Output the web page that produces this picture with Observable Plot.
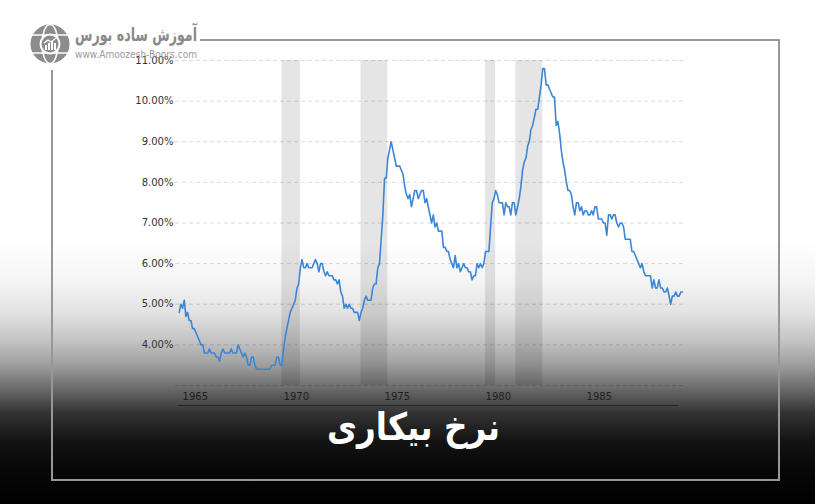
<!DOCTYPE html>
<html>
<head>
<meta charset="utf-8">
<script src="https://cdn.jsdelivr.net/npm/d3@7"></script>
<script src="https://cdn.jsdelivr.net/npm/@observablehq/plot@0.6"></script>
<style>
  html, body { margin: 0; padding: 0; background: #000; }
  #wrap {
    position: relative; width: 815px; height: 504px; overflow: hidden;
    background: linear-gradient(to bottom,
      #ffffff 0px, #ffffff 240px, #f5f5f5 280px, #e2e2e2 313px, #c4c4c4 340px,
      #a2a2a2 363px, #6e6e6e 387px, #333333 413px, #141414 440px, #070707 470px, #000000 504px);
  }
  #chart { position: absolute; left: 0; top: 0; }
  #deco { position: absolute; left: 0; top: 0; }
</style>
</head>
<body>
<div id="wrap">
  <div id="chart"></div>
  <svg id="deco" width="815" height="504">
    <!-- frame -->
    <g stroke="#979797" stroke-width="2" fill="none">
      <line x1="200" y1="40" x2="780" y2="40"></line>
      <line x1="779" y1="40" x2="779" y2="481"></line>
      <line x1="52" y1="480" x2="780" y2="480"></line>
      <line x1="52" y1="70" x2="52" y2="481"></line>
    </g>
    <!-- navigator baseline -->
    <line x1="178" y1="405.5" x2="678" y2="405.5" stroke="#000" stroke-opacity="0.45" stroke-width="1"></line>
    <!-- logo -->
    <g transform="translate(50,44)">
      <circle r="19.5" fill="#8c8c8c"></circle>
      <ellipse rx="8" ry="19.5" fill="none" stroke="#fff" stroke-width="1.6"></ellipse>
      <line x1="-19.5" y1="-9" x2="19.5" y2="-9" stroke="#fff" stroke-width="1.6"></line>
      <line x1="-19.5" y1="9" x2="19.5" y2="9" stroke="#fff" stroke-width="1.6"></line>
      <circle r="10.5" fill="#fff"></circle>
      <circle r="8.5" fill="#8c8c8c"></circle>
      <g fill="#fff">
        <rect x="-5" y="1" width="2" height="5"></rect>
        <rect x="-2" y="-1" width="2" height="7"></rect>
        <rect x="1" y="-3" width="2" height="9"></rect>
        <rect x="4" y="-1" width="2" height="7"></rect>
      </g>
      <polyline points="-6,-1 -2,-4 1,-2 6,-6" fill="none" stroke="#fff" stroke-width="1.3"></polyline>
    </g>
    <text x="197" y="41" direction="rtl" text-anchor="start" font-family="DejaVu Sans" font-weight="bold" font-size="19" fill="#8a8a8a" textLength="122" lengthAdjust="spacingAndGlyphs">آموزش ساده بورس</text>
    <text x="75" y="58" font-family="DejaVu Sans" font-size="9.6" fill="#9a9a9a" textLength="122" lengthAdjust="spacingAndGlyphs">www.Amoozesh-Boors.com</text>
    <!-- title -->
    <text x="500" y="440" direction="rtl" text-anchor="start" font-family="DejaVu Sans" font-weight="bold" font-size="38" fill="#ffffff" textLength="173" lengthAdjust="spacingAndGlyphs">نرخ بیکاری</text>
  </svg>
</div>
<script>
// Monthly US unemployment rate (%), Nov 1964 – Oct 1989
const firstYear = 1964;
const firstMonth = 10; // November (0-based)
const rates = [
  4.8, 5.0,
  4.9, 5.1, 4.7, 4.8, 4.6, 4.6, 4.4, 4.4, 4.3, 4.2, 4.1, 4.0,
  4.0, 3.8, 3.8, 3.8, 3.9, 3.8, 3.8, 3.8, 3.7, 3.7, 3.6, 3.8,
  3.9, 3.8, 3.8, 3.8, 3.8, 3.9, 3.8, 3.8, 3.8, 4.0, 3.9, 3.8,
  3.7, 3.8, 3.7, 3.5, 3.5, 3.7, 3.7, 3.5, 3.4, 3.4, 3.4, 3.4,
  3.4, 3.4, 3.4, 3.4, 3.4, 3.5, 3.5, 3.5, 3.7, 3.7, 3.5, 3.5,
  3.9, 4.2, 4.4, 4.6, 4.8, 4.9, 5.0, 5.1, 5.4, 5.5, 5.9, 6.1,
  5.9, 5.9, 6.0, 5.9, 5.9, 5.9, 6.0, 6.1, 6.0, 5.8, 6.0, 6.0,
  5.8, 5.7, 5.8, 5.7, 5.7, 5.7, 5.6, 5.6, 5.5, 5.6, 5.3, 5.2,
  4.9, 5.0, 4.9, 5.0, 4.9, 4.9, 4.8, 4.8, 4.8, 4.6, 4.8, 4.9,
  5.1, 5.2, 5.1, 5.1, 5.1, 5.4, 5.5, 5.5, 5.9, 6.0, 6.6, 7.2,
  8.1, 8.1, 8.6, 8.8, 9.0, 8.8, 8.6, 8.4, 8.4, 8.4, 8.3, 8.2,
  7.9, 7.7, 7.6, 7.7, 7.4, 7.6, 7.8, 7.8, 7.6, 7.7, 7.8, 7.8,
  7.5, 7.6, 7.4, 7.2, 7.0, 7.2, 6.9, 7.0, 6.8, 6.8, 6.8, 6.4,
  6.4, 6.3, 6.3, 6.1, 6.0, 5.9, 6.2, 5.9, 6.0, 5.8, 5.9, 6.0,
  5.9, 5.9, 5.8, 5.8, 5.6, 5.7, 5.7, 6.0, 5.9, 6.0, 5.9, 6.0,
  6.3, 6.3, 6.3, 6.9, 7.5, 7.6, 7.8, 7.7, 7.5, 7.5, 7.5, 7.2,
  7.5, 7.4, 7.4, 7.2, 7.5, 7.5, 7.2, 7.4, 7.6, 7.9, 8.3, 8.5,
  8.6, 8.9, 9.0, 9.3, 9.4, 9.6, 9.8, 9.8, 10.1, 10.4, 10.8, 10.8,
  10.4, 10.4, 10.3, 10.2, 10.1, 10.1, 9.4, 9.5, 9.2, 8.8, 8.5, 8.3,
  8.0, 7.8, 7.8, 7.7, 7.4, 7.2, 7.5, 7.5, 7.3, 7.4, 7.2, 7.3,
  7.3, 7.2, 7.2, 7.3, 7.2, 7.4, 7.4, 7.1, 7.1, 7.1, 7.0, 7.0,
  6.7, 7.2, 7.2, 7.1, 7.2, 7.2, 7.0, 6.9, 7.0, 7.0, 6.9, 6.6,
  6.6, 6.6, 6.6, 6.3, 6.3, 6.2, 6.1, 6.0, 5.9, 6.0, 5.8, 5.7,
  5.7, 5.7, 5.7, 5.4, 5.6, 5.4, 5.4, 5.6, 5.4, 5.4, 5.3, 5.3,
  5.4, 5.2, 5.0, 5.2, 5.2, 5.3, 5.2, 5.2, 5.3, 5.3
];

// Recessions (NBER), [year, month(1-12)]
const recessionStarts = [[1969, 12], [1973, 11], [1980, 1], [1981, 7]];
const recessionEnds   = [[1970, 11], [1975, 3], [1980, 7], [1982, 11]];

const yTicks = [4, 5, 6, 7, 8, 9, 10, 11];
const yGrid = [3, 4, 5, 6, 7, 8, 9, 10, 11];
const xTickYears = [1965, 1970, 1975, 1980, 1985];

const utc = (y, m) => new Date(Date.UTC(y, m, 1));
const data = rates.map((r, i) => ({ date: utc(firstYear, firstMonth + i), rate: r }));
const recessions = recessionStarts.map((s, i) => ({
  start: utc(s[0], s[1] - 1),
  end: utc(recessionEnds[i][0], recessionEnds[i][1] - 1)
}));

const chart = Plot.plot({
  width: 815,
  height: 504,
  marginTop: 60,
  marginBottom: 119,
  marginLeft: 175,
  marginRight: 132,
  style: { background: "transparent", fontFamily: "DejaVu Sans, sans-serif", fontSize: "10px" },
  x: { type: "utc", domain: [new Date(Date.UTC(1964, 7, 26)), new Date(Date.UTC(1989, 9, 19))], range: [175, 683] },
  y: { domain: [3, 11], range: [385, 60] },
  marks: [
    Plot.rect(recessions, { x1: "start", x2: "end", y1: 3, y2: 11, fill: "#000", fillOpacity: 0.1 }),
    Plot.ruleY(yGrid, { stroke: "#000", strokeOpacity: 0.14, strokeDasharray: "4,3" }),
    Plot.axisY({ ticks: yTicks, tickSize: 0, tickPadding: 2, tickFormat: d => d.toFixed(2) + "%", fill: "#333", label: null }),
    Plot.axisX({ ticks: xTickYears.map(y => utc(y, 0)), tickSize: 0, tickPadding: 7, textAnchor: "start", tickFormat: d => String(d.getUTCFullYear()), fill: "#1e1e1e", label: null }),
    Plot.line(data, { x: "date", y: "rate", stroke: "#3b86d6", strokeWidth: 1.6 })
  ]
});
document.getElementById("chart").appendChild(chart);
</script>
</body>
</html>
